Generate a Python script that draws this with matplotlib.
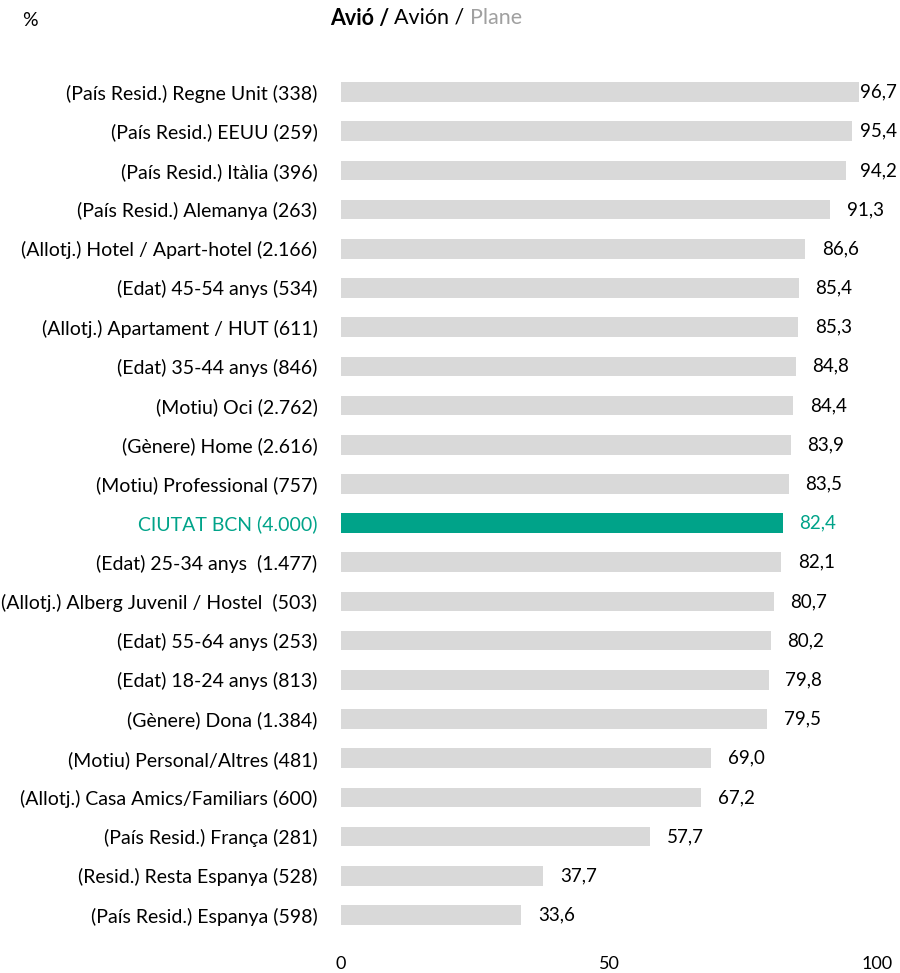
import numpy as np
import matplotlib.pyplot as plt

plt.rcParams['font.family'] = ['Lato', 'DejaVu Sans']

labels = [
    '(País Resid.) Regne Unit (338)',
    '(País Resid.) EEUU (259)',
    '(País Resid.) Itàlia (396)',
    '(País Resid.) Alemanya (263)',
    '(Allotj.) Hotel / Apart-hotel (2.166)',
    '(Edat) 45-54 anys (534)',
    '(Allotj.) Apartament / HUT (611)',
    '(Edat) 35-44 anys (846)',
    '(Motiu) Oci (2.762)',
    '(Gènere) Home (2.616)',
    '(Motiu) Professional (757)',
    'CIUTAT BCN (4.000)',
    '(Edat) 25-34 anys  (1.477)',
    '(Allotj.) Alberg Juvenil / Hostel  (503)',
    '(Edat) 55-64 anys (253)',
    '(Edat) 18-24 anys (813)',
    '(Gènere) Dona (1.384)',
    '(Motiu) Personal/Altres (481)',
    '(Allotj.) Casa Amics/Familiars (600)',
    '(País Resid.) França (281)',
    '(Resid.) Resta Espanya (528)',
    '(País Resid.) Espanya (598)',
]
values = [96.7, 95.4, 94.2, 91.3, 86.6, 85.4, 85.3, 84.8, 84.4, 83.9, 83.5,
          82.4, 82.1, 80.7, 80.2, 79.8, 79.5, 69.0, 67.2, 57.7, 37.7, 33.6]
highlight = 'CIUTAT BCN (4.000)'

grey = '#D9D9D9'
teal = '#00A389'
fs = 14

fig = plt.figure(figsize=(9, 9.73), dpi=100)
ax = fig.add_axes([341/900, 1 - 925/973, (877 - 341)/900, (925 - 72.4)/973])

n = len(labels)
y = np.arange(n)[::-1]
colors = [teal if l == highlight else grey for l in labels]
ax.barh(y, values, height=0.5, color=colors)

ax.set_yticks(y)
ax.set_yticklabels(labels, fontsize=fs)
for t, l in zip(ax.get_yticklabels(), labels):
    if l == highlight:
        t.set_color(teal)

ax.set_xlim(0, 100)
ax.set_ylim(-10/39.2, n - 1 + 0.5)
ax.set_xticks([0, 50, 100])
ax.tick_params(axis='both', length=0)
ax.tick_params(axis='x', pad=22, labelsize=13)
ax.tick_params(axis='y', pad=17)
for s in ax.spines.values():
    s.set_visible(False)

# value labels, pushed left when they would run past the chart's right edge
right_edge = 897
vlabels = []
for yi, v, l in zip(y, values, labels):
    c = teal if l == highlight else 'black'
    t = ax.annotate(f'{v:.1f}'.replace('.', ','), (v, yi), xytext=(12, 0),
                    textcoords='offset points', va='center', ha='left',
                    fontsize=13.5, color=c)
    vlabels.append(t)
fig.canvas.draw()
for t in vlabels:
    bb = t.get_window_extent()
    if bb.x1 > right_edge:
        dx = (bb.x1 - right_edge) * 72 / fig.dpi
        t.set_position((12 - dx, 0))

fig.text(30/900, 1 - 20/973, '%', fontsize=14, ha='center', va='center')
t1 = fig.text(330/900, 1 - 18/973, 'Avió / ', fontsize=15.5, fontweight='bold',
              ha='left', va='center')
fig.canvas.draw()
bb = t1.get_window_extent()
t2 = fig.text(bb.x1 / 900, 1 - 18/973, 'Avión / ', fontsize=15.5,
              ha='left', va='center')
fig.canvas.draw()
bb = t2.get_window_extent()
fig.text(bb.x1 / 900, 1 - 18/973, 'Plane', fontsize=15.5, color='#A0A0A0',
         ha='left', va='center')

fig.savefig('out.png', dpi=100)
